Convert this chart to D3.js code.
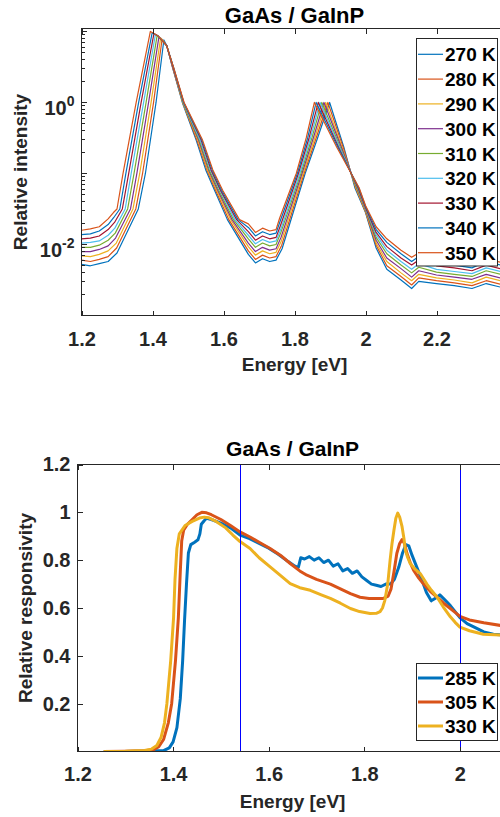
<!DOCTYPE html>
<html>
<head>
<meta charset="utf-8">
<script src="https://cdn.jsdelivr.net/npm/d3@7"></script>
<style>
  body { margin: 0; background: #fff; }
  svg { display: block; font-family: "Liberation Sans", Arial, sans-serif; font-weight: bold; }
</style>
</head>
<body>
<svg width="500" height="817"></svg>
<script>
// ---- top panel: PL spectra, [energy eV, log10 relative intensity] ----
const plTemps = ["270 K", "280 K", "290 K", "300 K", "310 K", "320 K", "330 K", "340 K", "350 K"];
const pl270 = [[1.200,-2.28],[1.225,-2.30],[1.250,-2.27],[1.275,-2.24],[1.300,-2.12],[1.360,-1.50],[1.380,-1.00],[1.410,0.00],[1.432,0.88],[1.440,0.80],[1.456,0.50],[1.484,0.00],[1.523,-0.53],[1.550,-0.95],[1.575,-1.24],[1.611,-1.65],[1.670,-2.14],[1.690,-2.26],[1.710,-2.20],[1.730,-2.24],[1.748,-2.22],[1.765,-2.06],[1.830,-1.00],[1.865,-0.50],[1.899,0.00],[1.939,-0.63],[1.970,-1.20],[2.000,-1.55],[2.030,-2.05],[2.060,-2.35],[2.100,-2.50],[2.130,-2.62],[2.150,-2.52],[2.200,-2.55],[2.250,-2.58],[2.300,-2.62],[2.340,-2.55],[2.380,-2.60]];
const pl280 = [[1.200,-2.22],[1.225,-2.24],[1.250,-2.21],[1.275,-2.17],[1.299,-2.05],[1.353,-1.50],[1.372,-1.00],[1.403,0.00],[1.427,0.89],[1.440,0.80],[1.456,0.50],[1.485,0.00],[1.525,-0.53],[1.553,-0.95],[1.578,-1.24],[1.615,-1.65],[1.670,-2.09],[1.690,-2.21],[1.710,-2.15],[1.730,-2.19],[1.748,-2.17],[1.764,-2.01],[1.827,-1.00],[1.861,-0.50],[1.894,0.00],[1.937,-0.63],[1.972,-1.20],[2.000,-1.54],[2.030,-2.01],[2.060,-2.30],[2.100,-2.45],[2.130,-2.57],[2.150,-2.47],[2.200,-2.51],[2.250,-2.54],[2.300,-2.58],[2.340,-2.51],[2.380,-2.56]];
const pl290 = [[1.200,-2.16],[1.225,-2.17],[1.250,-2.14],[1.275,-2.09],[1.298,-1.98],[1.345,-1.50],[1.364,-1.00],[1.396,0.00],[1.423,0.91],[1.440,0.80],[1.457,0.50],[1.485,0.00],[1.528,-0.53],[1.555,-0.95],[1.581,-1.24],[1.620,-1.65],[1.670,-2.03],[1.690,-2.15],[1.710,-2.09],[1.730,-2.13],[1.748,-2.11],[1.763,-1.95],[1.824,-1.00],[1.857,-0.50],[1.888,0.00],[1.934,-0.63],[1.973,-1.20],[2.000,-1.53],[2.030,-1.98],[2.060,-2.24],[2.100,-2.40],[2.130,-2.51],[2.150,-2.42],[2.200,-2.47],[2.250,-2.50],[2.300,-2.54],[2.340,-2.46],[2.380,-2.51]];
const pl300 = [[1.200,-2.10],[1.225,-2.10],[1.250,-2.07],[1.275,-2.02],[1.296,-1.91],[1.338,-1.50],[1.356,-1.00],[1.389,0.00],[1.418,0.92],[1.440,0.80],[1.457,0.50],[1.486,0.00],[1.530,-0.53],[1.558,-0.95],[1.584,-1.24],[1.624,-1.65],[1.670,-1.98],[1.690,-2.10],[1.710,-2.04],[1.730,-2.08],[1.748,-2.06],[1.762,-1.90],[1.821,-1.00],[1.853,-0.50],[1.883,0.00],[1.932,-0.63],[1.975,-1.20],[2.000,-1.51],[2.030,-1.94],[2.060,-2.19],[2.100,-2.34],[2.130,-2.46],[2.150,-2.37],[2.200,-2.43],[2.250,-2.46],[2.300,-2.49],[2.340,-2.42],[2.380,-2.47]];
const pl310 = [[1.200,-2.04],[1.225,-2.04],[1.250,-2.01],[1.275,-1.94],[1.295,-1.84],[1.330,-1.50],[1.348,-1.00],[1.382,0.00],[1.413,0.94],[1.440,0.80],[1.458,0.50],[1.486,0.00],[1.532,-0.53],[1.560,-0.95],[1.587,-1.24],[1.628,-1.65],[1.670,-1.92],[1.690,-2.04],[1.710,-1.98],[1.730,-2.02],[1.748,-2.00],[1.761,-1.84],[1.818,-1.00],[1.849,-0.50],[1.877,0.00],[1.929,-0.63],[1.976,-1.20],[2.000,-1.50],[2.030,-1.90],[2.060,-2.13],[2.100,-2.29],[2.130,-2.40],[2.150,-2.32],[2.200,-2.39],[2.250,-2.42],[2.300,-2.45],[2.340,-2.37],[2.380,-2.42]];
const pl320 = [[1.200,-1.98],[1.225,-1.97],[1.250,-1.95],[1.275,-1.87],[1.294,-1.77],[1.323,-1.50],[1.340,-1.00],[1.375,0.00],[1.408,0.95],[1.415,0.94],[1.440,0.80],[1.458,0.50],[1.487,0.00],[1.534,-0.53],[1.563,-0.95],[1.590,-1.24],[1.632,-1.65],[1.670,-1.87],[1.690,-1.99],[1.710,-1.93],[1.730,-1.97],[1.748,-1.95],[1.761,-1.79],[1.815,-1.00],[1.845,-0.50],[1.872,0.00],[1.927,-0.63],[1.978,-1.20],[2.000,-1.49],[2.030,-1.86],[2.060,-2.08],[2.100,-2.24],[2.130,-2.35],[2.150,-2.27],[2.200,-2.35],[2.250,-2.38],[2.300,-2.41],[2.340,-2.33],[2.380,-2.38]];
const pl330 = [[1.200,-1.92],[1.225,-1.91],[1.250,-1.88],[1.275,-1.79],[1.293,-1.69],[1.315,-1.50],[1.333,-1.00],[1.368,0.00],[1.404,0.97],[1.415,0.94],[1.440,0.80],[1.458,0.50],[1.488,0.00],[1.537,-0.53],[1.565,-0.95],[1.592,-1.24],[1.637,-1.65],[1.670,-1.82],[1.690,-1.94],[1.710,-1.88],[1.730,-1.92],[1.748,-1.90],[1.760,-1.74],[1.811,-1.00],[1.841,-0.50],[1.867,0.00],[1.924,-0.63],[1.979,-1.20],[2.000,-1.48],[2.030,-1.83],[2.060,-2.03],[2.100,-2.19],[2.130,-2.29],[2.150,-2.22],[2.200,-2.30],[2.250,-2.33],[2.300,-2.37],[2.340,-2.29],[2.380,-2.34]];
const pl340 = [[1.200,-1.86],[1.225,-1.85],[1.250,-1.81],[1.275,-1.72],[1.291,-1.62],[1.308,-1.50],[1.325,-1.00],[1.361,0.00],[1.399,0.98],[1.415,0.94],[1.440,0.80],[1.459,0.50],[1.488,0.00],[1.539,-0.53],[1.568,-0.95],[1.595,-1.24],[1.641,-1.65],[1.670,-1.76],[1.690,-1.88],[1.710,-1.82],[1.730,-1.86],[1.748,-1.84],[1.759,-1.68],[1.808,-1.00],[1.837,-0.50],[1.861,0.00],[1.922,-0.63],[1.981,-1.20],[2.000,-1.46],[2.030,-1.79],[2.060,-1.97],[2.100,-2.13],[2.130,-2.24],[2.150,-2.17],[2.200,-2.26],[2.250,-2.29],[2.300,-2.33],[2.340,-2.24],[2.380,-2.29]];
const pl350 = [[1.200,-1.80],[1.225,-1.78],[1.250,-1.75],[1.275,-1.64],[1.290,-1.55],[1.300,-1.50],[1.317,-1.00],[1.354,0.00],[1.394,1.00],[1.415,0.94],[1.440,0.80],[1.459,0.50],[1.489,0.00],[1.541,-0.53],[1.570,-0.95],[1.598,-1.24],[1.645,-1.65],[1.670,-1.71],[1.690,-1.83],[1.710,-1.77],[1.730,-1.81],[1.748,-1.79],[1.758,-1.63],[1.805,-1.00],[1.833,-0.50],[1.856,0.00],[1.919,-0.63],[1.982,-1.20],[2.000,-1.45],[2.030,-1.75],[2.060,-1.92],[2.100,-2.08],[2.130,-2.18],[2.150,-2.12],[2.200,-2.22],[2.250,-2.25],[2.300,-2.28],[2.340,-2.20],[2.380,-2.25]];
const plSeries = [pl270, pl280, pl290, pl300, pl310, pl320, pl330, pl340, pl350];
const plXTicks = [1.2, 1.4, 1.6, 1.8, 2, 2.2];
const plYLabels = [0.01, 1];

// ---- bottom panel: responsivity, [energy eV, relative responsivity] ----
const respTemps = ["285 K", "305 K", "330 K"];
const resp285 = [[1.255,0],[1.30,0],[1.35,0.002],[1.38,0.004],[1.392,0.015],[1.40,0.04],[1.408,0.10],[1.415,0.22],[1.420,0.38],[1.424,0.55],[1.428,0.70],[1.432,0.83],[1.437,0.865],[1.445,0.875],[1.452,0.885],[1.456,0.91],[1.459,0.95],[1.465,0.965],[1.470,0.975],[1.48,0.97],[1.50,0.955],[1.52,0.935],[1.54,0.905],[1.56,0.89],[1.58,0.87],[1.60,0.85],[1.62,0.825],[1.64,0.795],[1.655,0.775],[1.662,0.77],[1.667,0.81],[1.675,0.805],[1.685,0.815],[1.695,0.80],[1.705,0.81],[1.715,0.79],[1.725,0.80],[1.735,0.775],[1.745,0.785],[1.755,0.755],[1.765,0.765],[1.775,0.745],[1.785,0.755],[1.795,0.73],[1.805,0.715],[1.815,0.70],[1.825,0.695],[1.835,0.69],[1.845,0.70],[1.855,0.70],[1.863,0.72],[1.872,0.77],[1.880,0.83],[1.887,0.865],[1.893,0.86],[1.900,0.82],[1.910,0.77],[1.920,0.72],[1.930,0.665],[1.940,0.63],[1.948,0.64],[1.958,0.655],[1.968,0.635],[1.980,0.61],[1.990,0.585],[2.000,0.56],[2.015,0.535],[2.030,0.52],[2.050,0.50],[2.070,0.49],[2.100,0.485]];
const resp305 = [[1.255,0],[1.30,0.001],[1.34,0.003],[1.360,0.008],[1.370,0.02],[1.380,0.05],[1.390,0.12],[1.397,0.20],[1.405,0.38],[1.411,0.56],[1.415,0.75],[1.418,0.88],[1.422,0.925],[1.430,0.95],[1.440,0.97],[1.450,0.99],[1.460,1.0],[1.470,0.998],[1.48,0.99],[1.50,0.97],[1.52,0.945],[1.54,0.918],[1.561,0.897],[1.58,0.875],[1.603,0.849],[1.625,0.82],[1.645,0.786],[1.665,0.755],[1.68,0.737],[1.70,0.72],[1.729,0.70],[1.75,0.68],[1.771,0.66],[1.791,0.645],[1.81,0.64],[1.84,0.64],[1.85,0.65],[1.856,0.68],[1.862,0.75],[1.868,0.828],[1.874,0.87],[1.879,0.886],[1.884,0.87],[1.889,0.83],[1.896,0.79],[1.903,0.758],[1.914,0.725],[1.924,0.70],[1.938,0.67],[1.952,0.646],[1.966,0.62],[1.98,0.598],[1.99,0.582],[2.0,0.565],[2.02,0.55],[2.05,0.538],[2.085,0.527],[2.1,0.524]];
const resp330 = [[1.255,0],[1.30,0.001],[1.34,0.004],[1.355,0.01],[1.366,0.025],[1.375,0.06],[1.382,0.12],[1.387,0.20],[1.395,0.38],[1.401,0.56],[1.404,0.72],[1.408,0.85],[1.413,0.91],[1.425,0.945],[1.44,0.962],[1.455,0.976],[1.465,0.98],[1.475,0.977],[1.49,0.962],[1.51,0.935],[1.525,0.905],[1.54,0.878],[1.561,0.849],[1.58,0.81],[1.603,0.772],[1.625,0.735],[1.645,0.702],[1.665,0.685],[1.687,0.674],[1.71,0.655],[1.729,0.64],[1.75,0.62],[1.771,0.598],[1.79,0.585],[1.812,0.577],[1.825,0.578],[1.833,0.585],[1.838,0.60],[1.843,0.632],[1.849,0.70],[1.854,0.80],[1.858,0.87],[1.862,0.925],[1.866,0.975],[1.870,0.997],[1.874,0.98],[1.879,0.94],[1.883,0.89],[1.886,0.84],[1.891,0.81],[1.896,0.786],[1.905,0.765],[1.917,0.744],[1.931,0.70],[1.94,0.675],[1.952,0.646],[1.965,0.605],[1.98,0.563],[1.99,0.54],[2.0,0.52],[2.02,0.505],[2.049,0.49],[2.085,0.487],[2.1,0.486]];
const respSeries = [resp285, resp305, resp330];
const respXTicks = [1.2, 1.4, 1.6, 1.8, 2];
const respYTicks = [0.2, 0.4, 0.6, 0.8, 1, 1.2];
const markerEnergies = [1.54, 2.0];

const colors = ["#0072BD", "#D95319", "#EDB120", "#7E2F8E", "#77AC30", "#4DBEEE", "#A2142F"];
const axisColor = "#262626";

const svg = d3.select("svg");

// MATLAB-like box around the axes
const drawFrame = (g, x0, x1, y0, y1) => {
  g.append("rect")
    .attr("x", x0).attr("y", y1)
    .attr("width", x1 - x0).attr("height", y0 - y1)
    .attr("fill", "none").attr("stroke", axisColor).attr("stroke-width", 1)
    .attr("shape-rendering", "crispEdges");
};

const styleAxis = (sel) => {
  sel.select(".domain").remove();
  sel.selectAll(".tick line").attr("stroke", axisColor).attr("shape-rendering", "crispEdges");
  sel.selectAll(".tick text").attr("fill", axisColor).attr("font-size", 20);
  sel.attr("font-family", null).attr("font-size", null);
};

const fmt = (d) => String(+d.toFixed(1));

// ================= top panel =================
{
  const x = d3.scaleLinear().domain([1.2, 2.4]).range([81.5, 507.5]);
  const y = d3.scaleLog().domain([1e-3, 11]).range([315.5, 28.5]);
  const [x0, x1] = x.range();
  const [y0, y1] = y.range();

  svg.append("clipPath").attr("id", "clipTop")
    .append("rect").attr("x", x0).attr("y", y1).attr("width", x1 - x0).attr("height", y0 - y1);

  const line = d3.line().x((d) => x(d[0])).y((d) => y(Math.pow(10, d[1])));

  svg.append("g").attr("clip-path", "url(#clipTop)")
    .selectAll("path")
    .data(plSeries)
    .join("path")
    .attr("d", line)
    .attr("fill", "none")
    .attr("stroke", (d, i) => colors[i % colors.length])
    .attr("stroke-width", 1.2)
    .attr("stroke-linejoin", "round");

  svg.append("g")
    .attr("transform", `translate(0,${y0})`)
    .call(d3.axisBottom(x).tickValues(plXTicks).tickFormat(fmt).tickSize(-5).tickPadding(16))
    .call(styleAxis);

  svg.append("g")
    .attr("transform", `translate(0,${y1})`)
    .call(d3.axisTop(x).tickValues(plXTicks).tickFormat("").tickSize(-5))
    .call(styleAxis);

  // log ticks: 1..9 per decade
  const logTicks = [];
  for (let e = -3; e <= 1; e++) for (let m = 1; m <= 9; m++) {
    const v = m * Math.pow(10, e);
    if (v >= 1e-3 && v <= 11) logTicks.push({ v, major: m === 1 });
  }
  svg.append("g").selectAll("line").data(logTicks).join("line")
    .attr("x1", x0).attr("x2", (d) => x0 + (d.major ? 5 : 3))
    .attr("y1", (d) => y(d.v)).attr("y2", (d) => y(d.v))
    .attr("stroke", axisColor).attr("shape-rendering", "crispEdges");

  const yl = svg.append("g").selectAll("text").data(plYLabels).join("text")
    .attr("x", x0 - 7).attr("y", (d) => y(d) + 12.5)
    .attr("text-anchor", "end").attr("fill", axisColor).attr("font-size", 20);
  yl.append("tspan").text("10");
  yl.append("tspan").attr("font-size", 14).attr("dy", -9).text((d) => Math.round(Math.log10(d)));

  drawFrame(svg, x0, x1, y0, y1);

  svg.append("text").attr("x", (x0 + x1) / 2).attr("y", 22.5)
    .attr("text-anchor", "middle").attr("font-size", 22).attr("fill", "#000").text("GaAs / GaInP");
  svg.append("text").attr("x", (x0 + x1) / 2).attr("y", 371)
    .attr("text-anchor", "middle").attr("font-size", 19).attr("fill", axisColor).text("Energy [eV]");
  svg.append("text").attr("transform", `translate(27,${(y0 + y1) / 2}) rotate(-90)`)
    .attr("text-anchor", "middle").attr("font-size", 19).attr("fill", axisColor).text("Relative intensity");

  // legend
  const lg = svg.append("g");
  lg.append("rect").attr("x", 416.5).attr("y", 38.5).attr("width", 81).attr("height", 227.5)
    .attr("fill", "#fff").attr("stroke", axisColor).attr("stroke-width", 1);
  const items = lg.selectAll("g").data(plTemps).join("g")
    .attr("transform", (d, i) => `translate(0,${54.3 + i * 24.8})`);
  items.append("line").attr("x1", 418).attr("x2", 443)
    .attr("stroke", (d, i) => colors[i % colors.length]).attr("stroke-width", 1.2);
  items.append("text").attr("x", 445).attr("y", 7).attr("font-size", 19).attr("fill", "#000").text((d) => d);
}

// ================= bottom panel =================
{
  const x = d3.scaleLinear().domain([1.2, 2.1]).range([77.5, 507.7]);
  const y = d3.scaleLinear().domain([0, 1.2]).range([751.5, 464.5]);
  const [x0, x1] = x.range();
  const [y0, y1] = y.range();

  svg.append("clipPath").attr("id", "clipBot")
    .append("rect").attr("x", x0).attr("y", y1).attr("width", x1 - x0).attr("height", y0 - y1);

  const line = d3.line().x((d) => x(d[0])).y((d) => y(d[1]));

  const plot = svg.append("g").attr("clip-path", "url(#clipBot)");
  plot.selectAll("path")
    .data(respSeries)
    .join("path")
    .attr("d", line)
    .attr("fill", "none")
    .attr("stroke", (d, i) => colors[i])
    .attr("stroke-width", 3)
    .attr("stroke-linejoin", "round");

  // snap the marker lines to the pixel grid so they stay pure blue
  const snap = (v) => Math.round(v) + 0.5;
  plot.selectAll("line").data(markerEnergies).join("line")
    .attr("x1", (d) => snap(x(d))).attr("x2", (d) => snap(x(d)))
    .attr("y1", y0).attr("y2", y1)
    .attr("stroke", "#0000FF").attr("stroke-width", 1);

  svg.append("g")
    .attr("transform", `translate(0,${y0})`)
    .call(d3.axisBottom(x).tickValues(respXTicks).tickFormat(fmt).tickSize(-5).tickPadding(15))
    .call(styleAxis);
  svg.append("g")
    .attr("transform", `translate(0,${y1})`)
    .call(d3.axisTop(x).tickValues(respXTicks).tickFormat("").tickSize(-5))
    .call(styleAxis);
  svg.append("g")
    .attr("transform", `translate(${x0},0)`)
    .call(d3.axisLeft(y).tickValues(respYTicks).tickFormat(fmt).tickSize(-5).tickPadding(7))
    .call(styleAxis);

  drawFrame(svg, x0, x1, y0, y1);

  svg.append("text").attr("x", (x0 + x1) / 2).attr("y", 456)
    .attr("text-anchor", "middle").attr("font-size", 21).attr("fill", "#000").text("GaAs / GaInP");
  svg.append("text").attr("x", (x0 + x1) / 2).attr("y", 808)
    .attr("text-anchor", "middle").attr("font-size", 19).attr("fill", axisColor).text("Energy [eV]");
  svg.append("text").attr("transform", `translate(32,${(y0 + y1) / 2}) rotate(-90)`)
    .attr("text-anchor", "middle").attr("font-size", 19).attr("fill", axisColor).text("Relative responsivity");

  const lg = svg.append("g");
  lg.append("rect").attr("x", 416.5).attr("y", 663.5).attr("width", 81).attr("height", 77)
    .attr("fill", "#fff").attr("stroke", axisColor).attr("stroke-width", 1);
  const items = lg.selectAll("g").data(respTemps).join("g")
    .attr("transform", (d, i) => `translate(0,${678 + i * 24})`);
  items.append("line").attr("x1", 418).attr("x2", 443)
    .attr("stroke", (d, i) => colors[i]).attr("stroke-width", 3);
  items.append("text").attr("x", 445).attr("y", 7).attr("font-size", 19).attr("fill", "#000").text((d) => d);
}
</script>
</body>
</html>
